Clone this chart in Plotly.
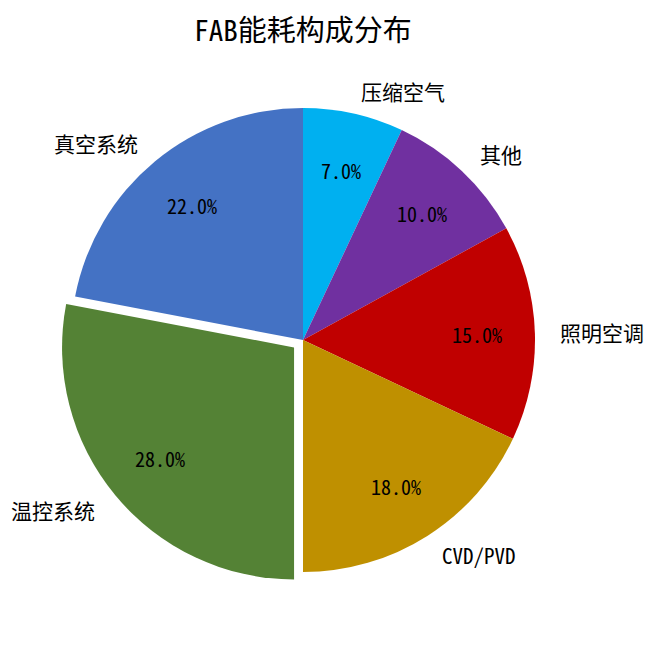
import numpy as np
import plotly.graph_objs as go

# data (clockwise from 12 o'clock)
labels = ['压缩空气', '其他', '照明空调', 'CVD/PVD', '温控系统', '真空系统']
values = [7.0, 10.0, 15.0, 18.0, 28.0, 22.0]
colors = ['#00B0F0', '#7030A0', '#C00000', '#BF9000', '#548235', '#4472C4']
explode = [0, 0, 0, 0, 0.05, 0]

W, H = 656, 645
FONT = 'Noto Sans Mono CJK SC, Noto Sans CJK SC, sans-serif'

# pie geometry in pixels
cx, cy, r = 303, 340, 232
half = r * (1 + max(explode))

fig = go.Figure()

fig.add_trace(go.Pie(labels=labels,
                     values=values,
                     marker=dict(colors=colors, line=dict(width=0)),
                     pull=explode,
                     sort=False,
                     direction='clockwise',
                     rotation=0,
                     textinfo='none',
                     hoverinfo='label+percent',
                     showlegend=False,
                     domain=dict(x=[(cx - half) / W, (cx + half) / W],
                                 y=[1 - (cy + half) / H, 1 - (cy - half) / H])
                     ))

# labels at 1.1 r, percents at 0.75 r (like matplotlib)
total = sum(values)
cum = np.cumsum([0] + values[:-1])
annotations = []
for lab, v, c, e in zip(labels, values, cum, explode):
    ang = np.deg2rad(90 - (c + v / 2) / total * 360)
    cs, sn = np.cos(ang), np.sin(ang)
    d_lab = (1.1 + e) * r
    d_pct = (0.75 + e) * r
    annotations.append(dict(
        x=(cx + d_lab * cs) / W, y=1 - (cy - d_lab * sn) / H,
        xref='paper', yref='paper', showarrow=False,
        text=lab, xanchor='left' if cs > 0 else 'right', yanchor='middle',
        font=dict(size=21, color='black', family=FONT)))
    annotations.append(dict(
        x=(cx + d_pct * cs) / W, y=1 - (cy - d_pct * sn) / H,
        xref='paper', yref='paper', showarrow=False,
        text='%.1f%%' % (v / total * 100), xanchor='center', yanchor='middle',
        font=dict(size=20, color='black', family=FONT)))

fig.update_layout(
    width=W, height=H,
    margin=dict(l=0, r=0, t=0, b=0),
    paper_bgcolor='white',
    plot_bgcolor='white',
    title=dict(text='FAB能耗构成分布', x=cx / W, xanchor='center',
               y=1 - 31 / H, yanchor='middle',
               font=dict(size=29, color='black', family=FONT)),
    annotations=annotations
)

# no default body margin so the figure sits at the page corner
fig.write_html("out.html", config={'displayModeBar': False},
               post_script="document.body.style.margin='0';")
